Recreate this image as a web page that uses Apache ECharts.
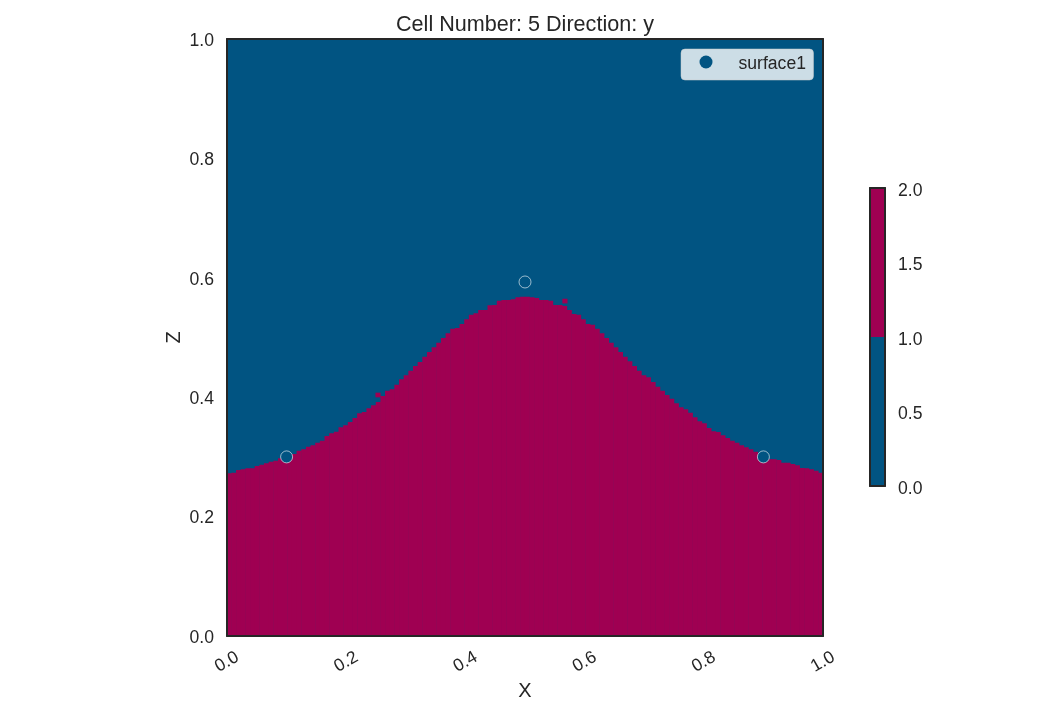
<!DOCTYPE html>
<html><head><meta charset="utf-8">
<style>html,body{margin:0;padding:0;background:#fff}#c{width:1040px;height:715px}</style>
<script src="https://cdn.jsdelivr.net/npm/echarts@6/dist/echarts.min.js"></script>
</head><body><div id="c"></div>
<script>
const titleText = 'Cell Number: 5 Direction: y';
const legendName = 'surface1';
const tickStep = 0.2;
// height of the lower unit in each of the 128 columns, read left to right
const surfaceHeight = [
.2725,.2736,.2781,.2792,.2809,.2809,.2848,.2870,.2893,.2920,.2937,.2976,.3004,.3027,.3049,.3105,
.3127,.3172,.3194,.3239,.3272,.3350,.3395,.3423,.3496,.3529,.3585,.3652,.3730,.3752,.3814,.3864,
.3920,.4020,.4110,.4132,.4210,.4300,.4367,.4445,.4523,.4590,.4679,.4757,.4836,.4914,.4992,.5070,
.5148,.5159,.5226,.5305,.5383,.5405,.5461,.5461,.5539,.5545,.5617,.5628,.5628,.5640,.5673,.5684,
.5684,.5673,.5662,.5628,.5628,.5617,.5545,.5545,.5528,.5461,.5394,.5383,.5305,.5226,.5215,.5148,
.5070,.4992,.4914,.4836,.4757,.4679,.4601,.4523,.4445,.4367,.4333,.4255,.4177,.4110,.4037,.3976,
.3898,.3831,.3797,.3741,.3663,.3596,.3563,.3484,.3429,.3418,.3362,.3317,.3272,.3239,.3194,.3160,
.3127,.3088,.3049,.3015,.2960,.2960,.2948,.2904,.2904,.2881,.2859,.2814,.2809,.2792,.2770,.2736];
const strayCellX = [0.2534, 0.567];
const strayCellZ = [0.4037, 0.561];
const pointX = [0.1, 0.5, 0.9];
const pointZ = [0.3, 0.593, 0.3];
const colorbarLevels = [1, 1];
const BLUE = '#015482', RED = '#9f0052', INK = '#262626';
const FONT = '"Liberation Sans", Arial, sans-serif';
const cellW = 1 / surfaceHeight.length;

function rect(api, x0, x1, z0, z1, color) {
  const a = api.coord([x0, z1]), b = api.coord([x1, z0]);
  return {type:'rect', shape:{x:a[0]-0.25, y:a[1], width:b[0]-a[0]+0.5, height:b[1]-a[1]}, style:{fill:color}};
}
const hideAxis = {axisLabel:{show:false}, axisTick:{show:false}, splitLine:{show:false}};
const frame = {lineStyle:{color:INK, width:2}};
const labels = {color:INK, fontFamily:FONT, fontSize:17.6};
const fmt = v => v.toFixed(1);
const chart = echarts.init(document.getElementById('c'), null, {renderer:'canvas'});
chart.setOption({
  animation:false,
  backgroundColor:'#fff',
  title:{text:titleText, left:520, top:9, textAlign:'center',
    textStyle:{color:INK, fontFamily:FONT, fontSize:21.6, fontWeight:'normal'}},
  legend:{left:681, top:49, orient:'vertical', data:[{name:legendName, icon:'circle', itemStyle:{borderWidth:0, color:BLUE, opacity:1}}],
    itemWidth:13, itemHeight:13, padding:[6,7.5,7,18.5],
    backgroundColor:'rgba(255,255,255,0.8)', borderRadius:4,
    borderColor:'rgba(204,204,204,0.5)', borderWidth:1,
    formatter:n=>'{a|'+n+'}',
    textStyle:{color:INK, fontFamily:FONT, fontSize:17.6,
      rich:{a:{color:INK, fontFamily:FONT, fontSize:17.6, padding:[4,0,0,21]}}}},
  grid:[
    {left:227, top:39, width:596, height:597, show:true, backgroundColor:BLUE, borderWidth:0},
    {left:870, top:188, width:15, height:298, borderWidth:0}
  ],
  xAxis:[
    {type:'value', gridIndex:0, min:0, max:1, interval:tickStep, z:10, axisLine:{show:true,onZero:false,...frame},
     axisTick:{show:false}, splitLine:{show:false},
     axisLabel:{...labels, rotate:30, margin:26, align:'center', verticalAlign:'middle', formatter:fmt, hideOverlap:false, showMinLabel:true, showMaxLabel:true},
     name:'X', nameLocation:'middle', nameGap:45, nameMoveOverlap:false, nameTextStyle:{...labels, fontSize:20}},
    {type:'value', gridIndex:0, min:0, max:1, position:'top', z:10, axisLine:{show:true,onZero:false,...frame}, ...hideAxis},
    {type:'category', gridIndex:1, data:['bar'], z:10, axisLine:{show:true,onZero:false,...frame}, ...hideAxis},
    {type:'category', gridIndex:1, data:['bar'], position:'top', z:10, axisLine:{show:true,onZero:false,...frame}, ...hideAxis}
  ],
  yAxis:[
    {type:'value', gridIndex:0, min:0, max:1, interval:tickStep, z:10, axisLine:{show:true,onZero:false,...frame},
     axisTick:{show:false}, splitLine:{show:false},
     axisLabel:{...labels, margin:13, verticalAlign:'top', lineHeight:4, formatter:fmt, showMinLabel:true, showMaxLabel:true},
     name:'Z', nameLocation:'middle', nameGap:43, nameMoveOverlap:false, nameTextStyle:{...labels, fontSize:20}},
    {type:'value', gridIndex:0, min:0, max:1, position:'right', z:10, axisLine:{show:true,onZero:false,...frame}, ...hideAxis},
    {type:'value', gridIndex:1, min:0, max:2, position:'right', interval:0.5, z:10, axisLine:{show:true,onZero:false,...frame},
     axisTick:{show:false}, splitLine:{show:false},
     axisLabel:{...labels, margin:13, verticalAlign:'top', lineHeight:6, formatter:fmt, showMinLabel:true, showMaxLabel:true}},
    {type:'value', gridIndex:1, min:0, max:2, position:'left', z:10, axisLine:{show:true,onZero:false,...frame}, ...hideAxis}
  ],
  series:[
    {type:'custom', name:'cells', xAxisIndex:0, yAxisIndex:0, z:2, silent:true, clip:true,
     data:surfaceHeight.map((z,i)=>[i,z]),
     encode:{x:0,y:1},
     renderItem:(p,api)=>rect(api, api.value(0)*cellW, (api.value(0)+1)*cellW, 0, api.value(1), RED)},
    {type:'custom', name:'stray', xAxisIndex:0, yAxisIndex:0, z:3, silent:true,
     data:strayCellX.map((x,i)=>[x,strayCellZ[i]]),
     encode:{x:0,y:1},
     renderItem:(p,api)=>rect(api, api.value(0)-cellW/2, api.value(0)+cellW/2, api.value(1)-cellW/2, api.value(1)+cellW/2, RED)},
    {type:'scatter', name:legendName, xAxisIndex:0, yAxisIndex:0, z:4, symbolSize:12,
     data:pointX.map((x,i)=>[x,pointZ[i]]),
     itemStyle:{color:BLUE, borderColor:'#fff', borderWidth:0.6, opacity:1}},
    {type:'bar', name:'low', xAxisIndex:2, yAxisIndex:2, stack:'cb', barWidth:'100%', data:[colorbarLevels[0]], itemStyle:{color:BLUE}, silent:true},
    {type:'bar', name:'high', xAxisIndex:2, yAxisIndex:2, stack:'cb', barWidth:'100%', data:[colorbarLevels[1]], itemStyle:{color:RED}, silent:true}
  ]
});
</script></body></html>
